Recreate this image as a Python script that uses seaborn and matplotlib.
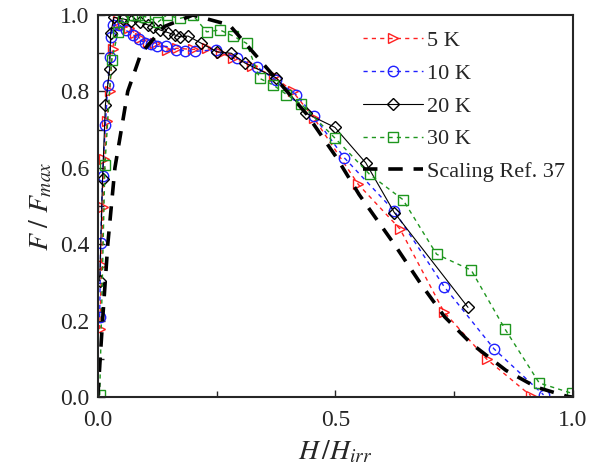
import seaborn as sns
import pandas as pd
import matplotlib
matplotlib.use("Agg")
import matplotlib.pyplot as plt
from matplotlib.ticker import MultipleLocator

# data (H/Hirr, F/Fmax)
h_5K = [0.004, 0.008, 0.011, 0.014, 0.019, 0.025, 0.031, 0.043, 0.053, 0.065, 0.078, 0.088,
        0.105, 0.12, 0.145, 0.166, 0.2, 0.229, 0.26, 0.285, 0.325, 0.37, 0.41, 0.455,
        0.548, 0.636, 0.729, 0.818, 0.911]
f_5K = [0.178, 0.346, 0.498, 0.622, 0.722, 0.80, 0.912, 0.985, 0.974, 0.965, 0.953, 0.94,
        0.93, 0.927, 0.908, 0.913, 0.91, 0.913, 0.90, 0.887, 0.866, 0.84, 0.80, 0.73,
        0.557, 0.44, 0.222, 0.10, 0.004]

h_10K = [0.004, 0.006, 0.01, 0.016, 0.021, 0.025, 0.028, 0.032, 0.045, 0.059, 0.075, 0.087,
         0.099, 0.111, 0.124, 0.144, 0.164, 0.184, 0.204, 0.249, 0.293, 0.334, 0.374, 0.418,
         0.455, 0.519, 0.624, 0.729, 0.834, 0.938]
f_10K = [0.209, 0.404, 0.578, 0.713, 0.817, 0.891, 0.943, 0.974, 0.975, 0.96, 0.948, 0.936,
         0.927, 0.925, 0.918, 0.918, 0.909, 0.907, 0.905, 0.909, 0.887, 0.865, 0.83, 0.791,
         0.735, 0.626, 0.487, 0.289, 0.126, 0.006]

h_20K = [0.004, 0.01, 0.016, 0.025, 0.027, 0.034, 0.053, 0.07, 0.088, 0.106, 0.117, 0.131,
         0.148, 0.162, 0.173, 0.19, 0.218, 0.25, 0.281, 0.309, 0.376, 0.438, 0.499, 0.564,
         0.624, 0.779]
f_20K = [0.304, 0.57, 0.765, 0.86, 0.952, 0.994, 0.99, 0.985, 0.982, 0.974, 0.969, 0.961,
         0.954, 0.948, 0.943, 0.945, 0.926, 0.904, 0.90, 0.875, 0.835, 0.743, 0.706, 0.613,
         0.483, 0.235]

h_30K = [0.004, 0.015, 0.029, 0.043, 0.053, 0.071, 0.085, 0.099, 0.127, 0.145, 0.172, 0.2,
         0.229, 0.257, 0.285, 0.313, 0.341, 0.369, 0.397, 0.428, 0.499, 0.572, 0.642, 0.713,
         0.786, 0.857, 0.929, 0.998]
f_30K = [0.005, 0.607, 0.882, 0.956, 0.996, 1.0, 1.0, 0.996, 0.982, 1.0, 0.991, 1.0,
         0.956, 0.961, 0.945, 0.926, 0.834, 0.817, 0.792, 0.767, 0.678, 0.583, 0.517, 0.374,
         0.332, 0.178, 0.037, 0.01]

h_scal = [0.0, 0.01, 0.021, 0.036, 0.063, 0.091, 0.14, 0.2, 0.277, 0.374, 0.44, 0.503,
          0.55, 0.624, 0.68, 0.73, 0.786, 0.859, 0.923, 0.988, 1.0]
f_scal = [0.0, 0.2, 0.4, 0.6, 0.8, 0.9, 0.97, 1.0, 0.974, 0.835, 0.74, 0.626,
          0.53, 0.40, 0.296, 0.21, 0.14, 0.07, 0.026, 0.002, 0.0]

sns.set_style("ticks")
plt.rcParams["font.family"] = ["Liberation Serif", "DejaVu Serif"]
plt.rcParams["mathtext.fontset"] = "stix"

fig = plt.figure(figsize=(6, 4.7), dpi=100)
ax = fig.add_axes([0.163, 0.155, 0.792, 0.813])

series = [
    (h_5K, f_5K, "5 K", "#ff2020", ">", (0, (3, 3)), 1.0),
    (h_10K, f_10K, "10 K", "#2020ff", "o", (0, (3, 3)), 1.0),
    (h_20K, f_20K, "20 K", "black", "D", "-", 0.8),
    (h_30K, f_30K, "30 K", "#1e961e", "s", (0, (3, 3)), 1.0),
]
for h, f, lab, col, mk, ls, lw in series:
    df = pd.DataFrame({"h": h, "f": f})
    ms = 6 if mk == "D" else 7.5
    sns.lineplot(data=df, x="h", y="f", ax=ax, sort=False, color=col, linestyle=ls,
                 linewidth=lw, marker=mk, markersize=ms, markerfacecolor="none",
                 markeredgecolor=col, markeredgewidth=1.0, label=lab)

df_s = pd.DataFrame({"h": h_scal, "f": f_scal})
sns.lineplot(data=df_s, x="h", y="f", ax=ax, sort=False, color="black",
             linestyle=(0, (4, 3)), linewidth=2.6, label="Scaling Ref. 37")

ax.set_xlim(0, 1)
ax.set_ylim(0, 1)
ax.xaxis.set_major_locator(MultipleLocator(0.5))
ax.xaxis.set_minor_locator(MultipleLocator(0.25))
ax.yaxis.set_major_locator(MultipleLocator(0.2))
ax.yaxis.set_minor_locator(MultipleLocator(0.1))
ax.xaxis.set_major_formatter(matplotlib.ticker.FormatStrFormatter("%.1f"))
ax.yaxis.set_major_formatter(matplotlib.ticker.FormatStrFormatter("%.1f"))
ax.tick_params(which="both", direction="in", labelsize=17, width=1)
ax.tick_params(axis="x", which="major", pad=9)
ax.tick_params(axis="y", which="major", pad=6)
ax.tick_params(which="major", length=5)
ax.tick_params(which="minor", length=4)
for s in ax.spines.values():
    s.set_linewidth(1.5)

ax.set_xlabel("$H\\,/H_{irr}$", fontsize=20, labelpad=6)
ax.set_ylabel("$F\\ /\\ F_{max}$", fontsize=20, labelpad=4)

ax.legend(loc="upper right", bbox_to_anchor=(1.015, 1.0), frameon=False, fontsize=16,
          handlelength=2.7, handletextpad=0.15, labelspacing=0.55, borderaxespad=0.3)

fig.savefig("out.png", dpi=100)
